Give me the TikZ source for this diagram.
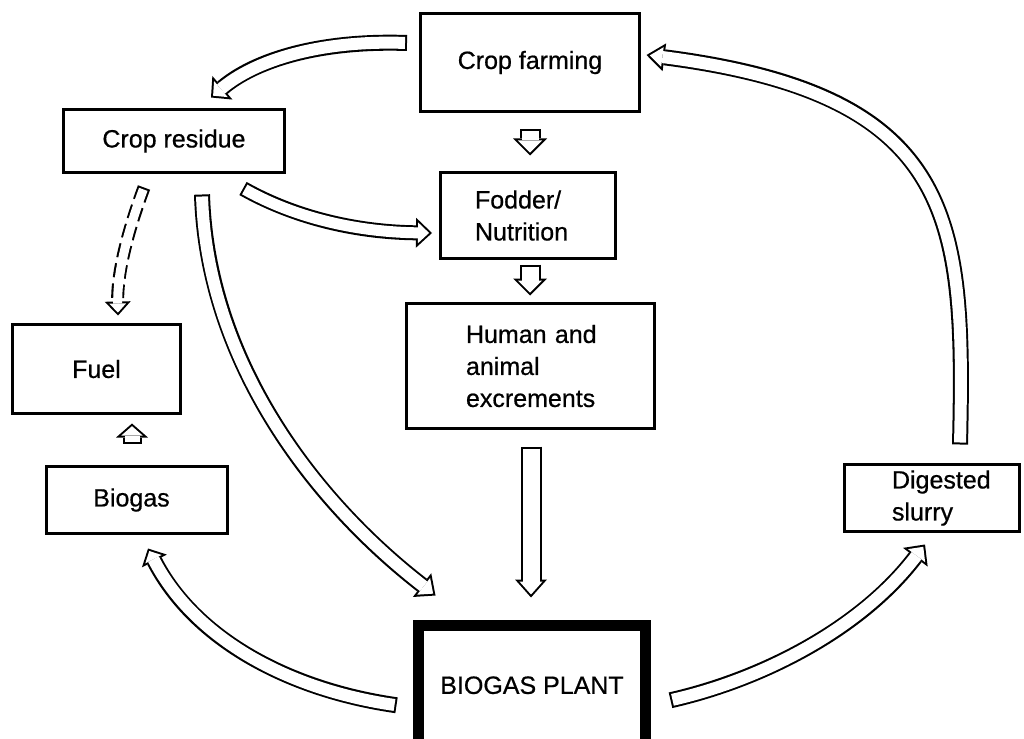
\documentclass[tikz,border=0pt]{standalone}
\usepackage{fontspec}
\setmainfont{Liberation Sans}
\usetikzlibrary{arrows.meta,calc}
\def\ho{2}
\newcommand\hollowarrow[5][]{%
  \pgfmathsetmacro\hS{#2}%
  \pgfmathsetmacro\hW{#3}%
  \pgfmathsetmacro\hL{#4}%
  \pgfmathsetmacro\hd{\ho*sqrt((\hW/2)^2+(\hL)^2)/(\hW/2)}%
  \pgfmathsetmacro\hLi{\hL-\ho-\hd}%
  \pgfmathsetmacro\hWi{\hW*\hLi/\hL}%
  \pgfmathsetmacro\hSi{\hS-2*\ho}%
  \draw[line width=\hS pt,-{Triangle[width=\hW pt,length=\hL pt,line width=0pt]},#1] #5;
  \draw[white,line width=\hSi pt,shorten <=\ho pt,shorten >=\hd pt,-{Triangle[width=\hWi pt,length=\hLi pt,line width=0pt]}] #5;
}
\begin{document}
\begin{tikzpicture}[x=1pt,y=-1pt,
  box/.style={draw, line width=3pt, inner sep=0pt, font=\fontsize{25}{32}\selectfont\addfontfeature{FakeBold=0.6}}]
\useasboundingbox (0,0) rectangle (1024,738);
\fill[white] (0,0) rectangle (1024,738);
% boxes
\node[box, minimum width=219pt, minimum height=98pt] (cf) at (530,62.5) {Crop farming};
\node[box, minimum width=221pt, minimum height=63pt] (cr) at (174,141) {Crop residue};
\node[box, minimum width=175pt, minimum height=86pt, text width=106pt, align=left] (fn) at (528,215.5) {Fodder/\\Nutrition};
\node[box, minimum width=248pt, minimum height=125pt, text width=129pt, align=left] (he) at (530.5,366) {\mbox{Human and}\\animal\\excrements};
\node[box, minimum width=168pt, minimum height=89pt] (fu) at (96.5,369) {Fuel};
\node[box, minimum width=181pt, minimum height=67pt] (bg) at (137,500) {\hspace*{-11pt}Biogas};
\node[box, line width=11pt, minimum width=227pt, minimum height=119.5pt] (bp) at (532,685.25) {BIOGAS PLANT};
\node[box, minimum width=175pt, minimum height=67pt, text width=80pt, align=left] (ds) at (932,498) {Digested\\slurry};
% arrows
\hollowarrow{16}{31}{15}{($(cf.west)+(-12,-19.5)$) .. controls (320,40) and (255,60) .. ($(cr.north)+(37,-10.5)$)}
\hollowarrow{21}{34}{17}{($(cf.south)+(0,16.5)$) -- ($(fn.north)+(2,-15.5)$)}
\hollowarrow{21}{34}{17}{($(fn.south)+(2,4.5)$) -- ($(he.north)+(-0.5,-6.5)$)}
\hollowarrow{15}{30}{16}{($(cr.south)+(69,14.5)$) .. controls (290,215) and (350,232) .. ($(fn.west)+(-7,17.5)$)}
\hollowarrow[dash pattern=on 14pt off 6pt]{13}{26}{14}{($(cr.south)+(-30,13.5)$) .. controls (130,225) and (117,270) .. ($(fu.north)+(21.5,-7.5)$)}
\hollowarrow{16}{30}{17}{($(cr.south)+(28,20.5)$) .. controls (207,360) and (312,500) .. ($(bp.north west)+(22.5,-24.5)$)}
\hollowarrow{19}{32}{14}{($(bg.north)+(-5,-21.5)$) -- ($(fu.south)+(35.5,8.5)$)}
\hollowarrow{21}{32}{18}{($(he.south)+(0.5,16.5)$) -- ($(bp.north)+(-1,-22.5)$)}
\hollowarrow{16}{28}{14}{($(bp.west)+(-16.5,20)$) .. controls (290,690) and (195,640) .. ($(bg.south)+(11,13.5)$)}
\hollowarrow{16}{31}{16}{($(bp.east)+(19.5,15)$) .. controls (760,680) and (860,630) .. ($(ds.south)+(-7,11.5)$)}
\hollowarrow{16}{28}{18}{($(ds.north)+(28,-18.5)$) .. controls (965,220) and (958,95) .. ($(cf.east)+(5.5,-7.5)$)}
\end{tikzpicture}
\end{document}
